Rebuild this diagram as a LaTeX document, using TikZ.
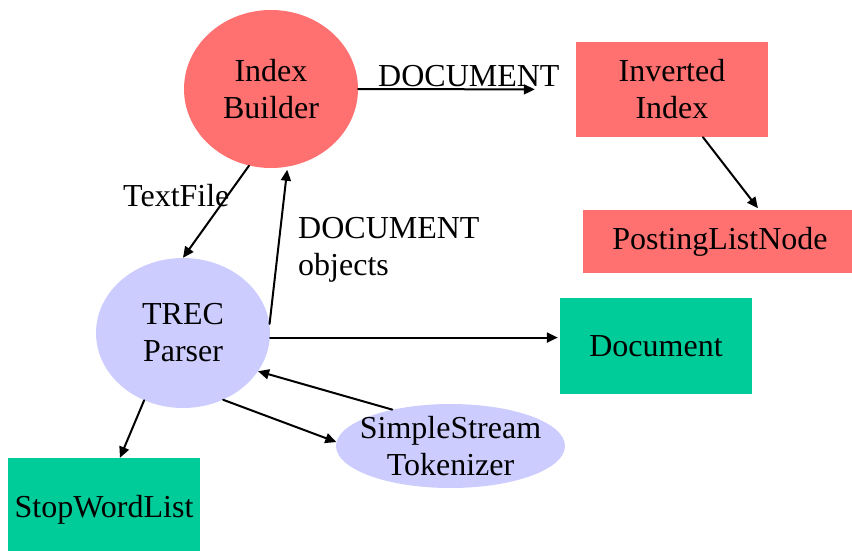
\documentclass[tikz,border=0pt]{standalone}
\usepackage{fontspec}
\setmainfont{Liberation Serif}
\usetikzlibrary{shapes.geometric,arrows.meta}

\definecolor{idxred}{RGB}{255,112,112}
\definecolor{parseblue}{RGB}{204,204,255}
\definecolor{docgreen}{RGB}{0,204,153}

\begin{document}
\begin{tikzpicture}[x=1pt, y=-1pt, line cap=round, line join=round,
    every node/.style={font=\fontsize{32}{37}\selectfont, inner sep=0pt},
    oval/.style={ellipse, inner sep=-22pt, align=center},
    box/.style={rectangle, align=center},
    flow/.style={line width=2pt, -{Triangle[length=11pt,width=10pt]}},
    lbl/.style={align=left}]

    % frame (drawing units = pixels of the slide)
    \useasboundingbox (0,0) rectangle (852,550);

    % index side (red)
    \node[oval, fill=idxred, minimum width=174pt, minimum height=158pt] (builder) at (271,89) {Index\\Builder};
    \node[box, fill=idxred, minimum width=192pt, minimum height=95pt] (inverted) at (672,89.5) {Inverted\\Index};
    \node[box, fill=idxred, minimum width=274pt, minimum height=63pt] (posting) at (720,241.5) {PostingListNode};

    % parsing side (blue ovals, green classes)
    \node[oval, fill=parseblue, minimum width=174pt, minimum height=150pt] (parser) at (183,333) {TREC\\Parser};
    \node[oval, fill=parseblue, minimum width=229pt, minimum height=84pt] (tokenizer) at (450.5,446) {SimpleStream\\Tokenizer};
    \node[box, fill=docgreen, minimum width=192pt, minimum height=96pt] (document) at (656,346) {Document};
    \node[box, fill=docgreen, minimum width=192pt, minimum height=104pt] (stopwords) at (104,510) {StopWordList};

    % edge labels
    \node[anchor=base west] (docLabel) at (378,86) {DOCUMENT};
    \node[anchor=base west] (fileLabel) at (123,206) {TextFile};
    \node[lbl, anchor=north west] (objLabel) at (298,217) {DOCUMENT\\objects};

    % connectors
    \draw[flow, shorten >=41pt] (builder.east) -- (inverted.west);
    \draw[flow, shorten >=2pt] (inverted.-57) -- (posting.39);
    \draw[flow] (builder.-106) -- (parser.north);
    \draw[flow, shorten >=3pt] (parser.6) -- (builder.-78);
    \draw[flow, shorten >=2pt] (parser.-3) -- (parser.-3 -| document.west);
    \draw[flow] (tokenizer.148) -- (parser.-27);
    \draw[flow] (parser.-59) -- (tokenizer.178);
    \draw[flow] (parser.-120) -- (stopwords.73);

\end{tikzpicture}
\end{document}
